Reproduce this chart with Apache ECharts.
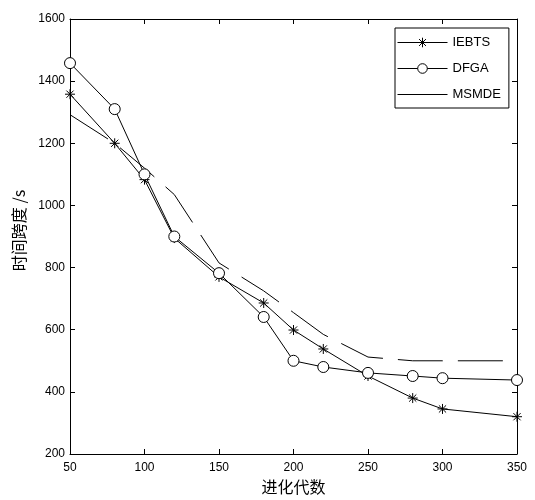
<!DOCTYPE html>
<html><head><meta charset="utf-8">
<script src="https://cdn.jsdelivr.net/npm/echarts@6/dist/echarts.min.js"></script>
<style>html,body{margin:0;padding:0;background:#fff}#c{width:535px;height:500px}</style>
</head><body><div id="c"></div>
<script>
const generations = [50, 80, 100, 120, 150, 180, 200, 220, 250, 280, 300, 350];
const iebts = [1358, 1200, 1083, 895, 770, 686, 599, 538, 451, 380, 345, 320];
const dfga = [1458, 1310, 1100, 900, 782, 641, 500, 480, 461, 451, 444, 438];
const msmde = [1292, 1200, 1120, 1035, 815, 725, 655, 585, 512, 500, 500, 500];
const seriesNames = ['IEBTS', 'DFGA', 'MSMDE'];
const xTitle = '进化代数';
const yTitle = '时间跨度 /s';

const pair = (xs, ys) => xs.map((x, i) => [x, ys[i]]);
const star = 'path://M0,-5L0,5M-5,0L5,0M-3.6,-3.6L3.6,3.6M-3.6,3.6L3.6,-3.6';
const numFont = {fontFamily: 'Liberation Sans, Arial', fontSize: 12, color: '#000', formatter: v => String(v)};
const axisLine = {show: true, lineStyle: {color: '#000', width: 1}};
const tick = {show: true, inside: true, length: 5, lineStyle: {color: '#000'}};

const chart = echarts.init(document.getElementById('c'), null, {renderer: 'canvas'});
chart.setOption({
  animation: false,
  backgroundColor: '#fff',
  grid: {left: 70, top: 19, right: 18, bottom: 46, show: false},
  legend: {
    orient: 'vertical', left: 395, top: 28,
    itemWidth: 50, itemHeight: 12, itemGap: 13,
    padding: [8, 8, 7, 2],
    borderColor: '#000', borderWidth: 1, backgroundColor: '#fff',
    lineStyle: {width: 1},
    itemStyle: {borderWidth: 1},
    textStyle: {fontFamily: 'Liberation Sans, Arial', fontSize: 13, color: '#000'},
    data: [
      {name: seriesNames[0]},
      {name: seriesNames[1]},
      {name: seriesNames[2], lineStyle: {type: 'solid', width: 1}, itemStyle: {opacity: 0}}
    ]
  },
  xAxis: [{
    type: 'value', min: 50, max: 350, interval: 50, position: 'bottom',
    name: xTitle, nameLocation: 'middle', nameGap: 24,
    nameTextStyle: {fontFamily: 'Noto Sans CJK SC', fontSize: 16, color: '#000'},
    axisLine: axisLine, axisTick: tick, splitLine: {show: false},
    axisLabel: Object.assign({margin: 8}, numFont)
  }, {
    type: 'value', min: 50, max: 350, interval: 50, position: 'top',
    axisLine: axisLine, axisTick: tick, splitLine: {show: false},
    axisLabel: {show: false}
  }],
  yAxis: [{
    type: 'value', min: 200, max: 1600, interval: 200, position: 'left',
    name: yTitle, nameLocation: 'middle', nameGap: 36, nameRotate: 90,
    nameTextStyle: {fontFamily: 'Noto Sans CJK SC', fontSize: 16, color: '#000', padding: [0, 0, 0, 12]},
    axisLine: axisLine, axisTick: tick, splitLine: {show: false},
    axisLabel: Object.assign({margin: 5}, numFont)
  }, {
    type: 'value', min: 200, max: 1600, interval: 200, position: 'right',
    axisLine: axisLine, axisTick: tick, splitLine: {show: false},
    axisLabel: {show: false}
  }],
  series: [{
    name: seriesNames[0], type: 'line', data: pair(generations, iebts),
    symbol: star, symbolSize: 10,
    itemStyle: {color: '#000', borderColor: '#000', borderWidth: 1},
    lineStyle: {color: '#000', width: 1}
  }, {
    name: seriesNames[1], type: 'line', data: pair(generations, dfga),
    symbol: 'circle', symbolSize: 11,
    itemStyle: {color: '#fff', borderColor: '#000', borderWidth: 1},
    lineStyle: {color: '#000', width: 1}
  }, {
    name: seriesNames[2], type: 'line', data: pair(generations, msmde),
    showSymbol: false, symbol: 'none',
    itemStyle: {color: '#000'},
    lineStyle: {color: '#000', width: 1, type: [45, 15]}
  }]
});
</script></body></html>
